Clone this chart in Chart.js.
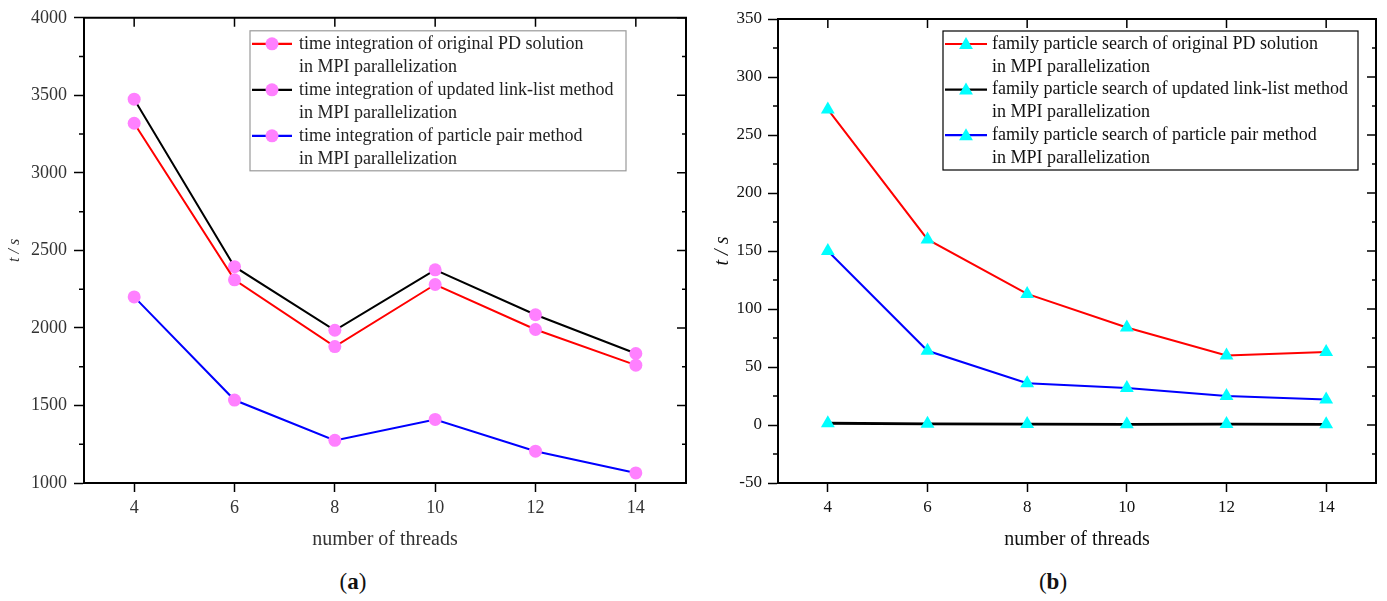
<!DOCTYPE html>
<html>
<head>
<meta charset="utf-8">
<script src="https://cdn.jsdelivr.net/npm/chart.js@4.4.1/dist/chart.umd.min.js"></script>
<style>
  body { margin: 0; background: #fff; width: 1387px; height: 601px; position: relative; overflow: hidden; font-family: "Liberation Serif", serif; }
  canvas { position: absolute; top: 0; }
  .caption { position: absolute; top: 569px; width: 80px; font-size: 23px; color: #111; text-align: center; }
</style>
</head>
<body>
<canvas id="chartA" width="693" height="560" style="left:0"></canvas>
<canvas id="chartB" width="694" height="560" style="left:693px"></canvas>
<div class="caption" style="left:313px">(<b>a</b>)</div>
<div class="caption" style="left:1013px">(<b>b</b>)</div>
<script>
// number of threads
const threads = [4, 6, 8, 10, 12, 14];

// (a) time integration, s
const tiOriginal = [3320, 2310, 1880, 2280, 1990, 1760];
const tiLinkList = [3475, 2395, 1985, 2375, 2085, 1835];
const tiPairs = [2200, 1535, 1275, 1410, 1205, 1065];
const yTicksA = [1000, 1500, 2000, 2500, 3000, 3500, 4000];
const namesA = [
  ["time integration of original PD solution", "in MPI parallelization"],
  ["time integration of updated link-list method", "in MPI parallelization"],
  ["time integration of particle pair method", "in MPI parallelization"],
];

// (b) family particle search, s
const fsOriginal = [272, 160, 113, 84, 60, 63];
const fsLinkList = [1.5, 1, 0.8, 0.6, 0.8, 0.6];
const fsPairs = [150, 64, 36, 32, 25, 22];
const yTicksB = [-50, 0, 50, 100, 150, 200, 250, 300, 350];
const namesB = [
  ["family particle search of original PD solution", "in MPI parallelization"],
  ["family particle search of updated link-list method", "in MPI parallelization"],
  ["family particle search of particle pair method", "in MPI parallelization"],
];

const SERIF = "'Liberation Serif', 'Times New Roman', serif";

function puntos(vals) {
  return threads.map((t, i) => ({ x: t, y: vals[i] }));
}

// marco superior/derecho + ticks espejo y menores
const marco = {
  id: "marco",
  afterDatasetsDraw(chart) {
    const { ctx, chartArea: a, scales: { x, y } } = chart;
    ctx.save();
    ctx.strokeStyle = "#000";
    ctx.lineWidth = 2;
    ctx.beginPath();
    ctx.moveTo(a.left - 1, a.top);
    ctx.lineTo(a.right, a.top);
    ctx.lineTo(a.right, a.bottom + 1);
    ctx.stroke();
    ctx.lineWidth = 1.5;
    ctx.beginPath();
    x.ticks.forEach((t) => {
      const px = x.getPixelForValue(t.value);
      ctx.moveTo(px, a.top);
      ctx.lineTo(px, a.top + 9);
    });
    y.ticks.forEach((t, i) => {
      const py = y.getPixelForValue(t.value);
      ctx.moveTo(a.right, py);
      ctx.lineTo(a.right - 9, py);
      if (i > 0) {
        const pm = y.getPixelForValue((t.value + y.ticks[i - 1].value) / 2);
        ctx.moveTo(a.right, pm);
        ctx.lineTo(a.right - 4, pm);
        ctx.moveTo(a.left, pm);
        ctx.lineTo(a.left - 5, pm);
      }
    });
    ctx.stroke();
    ctx.restore();
  },
};

function marcador(ctx, estilo, color, r, cx, cy) {
  ctx.fillStyle = color;
  ctx.beginPath();
  if (estilo === "triangle") {
    ctx.moveTo(cx, cy - r);
    ctx.lineTo(cx + r * Math.sin(2 * Math.PI / 3), cy + r / 2);
    ctx.lineTo(cx - r * Math.sin(2 * Math.PI / 3), cy + r / 2);
    ctx.closePath();
  } else {
    ctx.arc(cx, cy, r, 0, Math.PI * 2);
  }
  ctx.fill();
}

// leyenda con cajita y etiquetas en dos líneas
const leyenda = {
  id: "leyenda",
  afterDraw(chart, args, o) {
    const { ctx, chartArea: a } = chart;
    const x0 = a.left + o.left;
    const y0 = a.top + o.top;
    ctx.save();
    ctx.fillStyle = "#fff";
    ctx.fillRect(x0, y0, o.width, o.height);
    ctx.strokeStyle = o.border;
    ctx.lineWidth = 1.2;
    ctx.strokeRect(x0, y0, o.width, o.height);
    chart.data.datasets.forEach((ds, i) => {
      const fy = y0 + o.first + i * 2 * o.gap;
      ctx.strokeStyle = ds.borderColor;
      ctx.lineWidth = 2.2;
      ctx.beginPath();
      ctx.moveTo(x0 + 2, fy);
      ctx.lineTo(x0 + 2 + o.sample, fy);
      ctx.stroke();
      marcador(ctx, ds.pointStyle, ds.pointBackgroundColor, ds.pointRadius, x0 + 2 + o.sample / 2, fy + o.markerDy);
      ctx.fillStyle = o.color;
      ctx.font = o.size + "px " + SERIF;
      ctx.textBaseline = "middle";
      ds.lineas.forEach((s, j) => ctx.fillText(s, x0 + o.textX, fy + j * o.gap));
    });
    ctx.restore();
  },
};

function grafica(id, series, nombres, colores, yTicks, cfg) {
  const datasets = series.map((vals, i) => ({
    label: nombres[i].join(" "),
    lineas: nombres[i],
    data: puntos(vals),
    borderColor: colores[i],
    borderWidth: cfg.lineWidths[i],
    pointStyle: cfg.pointStyle,
    pointRadius: cfg.pointRadius,
    pointBackgroundColor: cfg.markerColor,
    pointBorderWidth: 0,
    pointBorderColor: cfg.markerColor,
    tension: 0,
  }));
  return new Chart(id, {
    type: "line",
    data: { datasets: datasets },
    options: {
      responsive: false,
      animation: false,
      layout: { padding: { top: cfg.padTop, right: cfg.padRight, left: 0, bottom: 0 } },
      plugins: {
        legend: { display: false },
        tooltip: { enabled: false },
        leyenda: cfg.leyenda,
      },
      scales: {
        x: {
          type: "linear",
          min: 3,
          max: 15,
          afterBuildTicks: (s) => { s.ticks = threads.map((v) => ({ value: v })); },
          afterFit: (s) => { s.height = cfg.xHeight; },
          grid: { drawOnChartArea: false, drawTicks: true, tickLength: 9, tickWidth: 1.5, tickColor: "#000" },
          border: { display: true, color: "#000", width: 2 },
          ticks: { font: { family: SERIF, size: cfg.tickSize }, color: cfg.textColor, padding: 5, callback: (v) => String(v) },
          title: {
            display: true,
            text: "number of threads",
            font: { family: SERIF, size: 20 },
            color: cfg.textColor,
            padding: { top: 0, bottom: 8 },
          },
        },
        y: {
          type: "linear",
          min: yTicks[0],
          max: yTicks[yTicks.length - 1],
          afterBuildTicks: (s) => { s.ticks = yTicks.map((v) => ({ value: v })); },
          afterFit: (s) => { s.width = cfg.yWidth; },
          grid: { drawOnChartArea: false, drawTicks: true, tickLength: 10, tickWidth: 1.5, tickColor: "#000" },
          border: { display: true, color: "#000", width: 2 },
          ticks: { font: { family: SERIF, size: cfg.tickSize }, color: cfg.textColor, padding: cfg.yPad, callback: (v) => String(v) },
          title: {
            display: true,
            text: "t / s",
            font: { family: SERIF, size: cfg.yTitleSize, style: "italic" },
            color: cfg.textColor,
            padding: { top: cfg.yTitlePad, bottom: 0 },
          },
        },
      },
    },
    plugins: [marco, leyenda],
  });
}

grafica("chartA", [tiOriginal, tiLinkList, tiPairs], namesA, ["#ff0000", "#000000", "#0000ff"], yTicksA, {
  lineWidths: [2, 2, 2],
  pointStyle: "circle",
  pointRadius: 6.5,
  markerColor: "#ff80ff",
  padTop: 15,
  padRight: 7,
  xHeight: 77,
  yWidth: 84,
  yPad: 7,
  tickSize: 18,
  textColor: "#333",
  yTitleSize: 16,
  yTitlePad: 5,
  leyenda: { left: 166, top: 13, width: 376, height: 140, first: 13, gap: 23, sample: 40, textX: 49, size: 18, color: "#222", border: "#9a9a9a", markerDy: 0 },
});

grafica("chartB", [fsOriginal, fsLinkList, fsPairs], namesB, ["#ff0000", "#000000", "#0000ff"], yTicksB, {
  lineWidths: [2, 2.8, 2],
  pointStyle: "triangle",
  pointRadius: 8,
  markerColor: "#00ffff",
  padTop: 19,
  padRight: 11,
  xHeight: 77,
  yWidth: 85,
  yPad: 6,
  tickSize: 17,
  textColor: "#111",
  yTitleSize: 20,
  yTitlePad: 18,
  leyenda: { left: 165, top: 12, width: 415, height: 139, first: 13, gap: 22.8, sample: 42, textX: 49, size: 18, color: "#111", border: "#000", markerDy: 1 },
});
</script>
</body>
</html>
